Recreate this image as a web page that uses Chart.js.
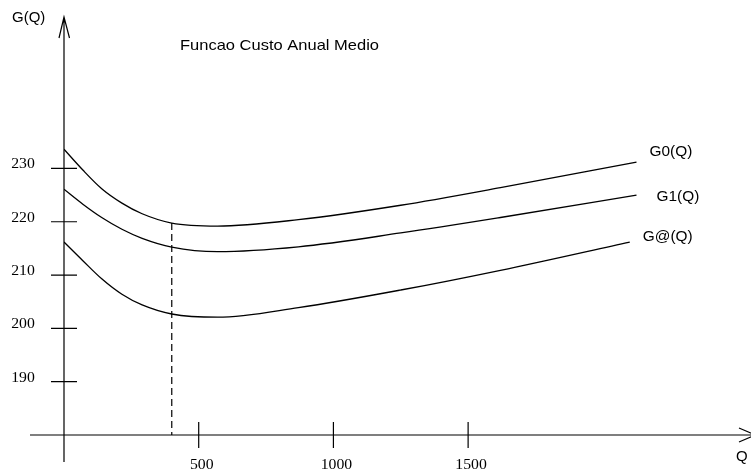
<!DOCTYPE html>
<html>
<head>
<meta charset="utf-8">
<script src="https://cdn.jsdelivr.net/npm/chart.js@4.4.1/dist/chart.umd.min.js"></script>
<style>
  html, body { margin: 0; padding: 0; background: #fff; }
  #wrap { width: 751px; height: 469px; }
</style>
</head>
<body>
<div id="wrap"><canvas id="myChart" width="751" height="469"></canvas></div>
<script>
var qValues = [0, 70, 140, 215, 290, 400, 570, 870, 1250, 1620, 2125];
var qValuesG2 = [0, 70, 140, 215, 290, 400, 570, 870, 1250, 1620, 2100];

// series values G(Q)
var g0Values = [233.6, 229.7, 226.2, 223.5, 221.5, 219.75, 219.2, 220.4, 223.1, 226.4, 231.2];
var g1Values = [226.1, 223.3, 220.8, 218.6, 216.9, 215.25, 214.4, 215.3, 217.9, 220.8, 225.0];
var g2Values = [216.2, 212.7, 209.3, 206.4, 204.4, 202.7, 202.1, 203.9, 207.2, 210.9, 216.2];

var seriesNames = ["G0(Q)", "G1(Q)", "G@(Q)"];

// tick labels
var yTicks = [190, 200, 210, 220, 230];
var xTicks = [500, 1000, 1500];

// dashed marker at the optimum Q
var markerQ = 400;
var markerTop = 219.75;

var axisMinY = 180;

function toPoints(xs, ys) {
    var pts = [];
    for (var i = 0; i < xs.length; i++) {
        pts.push({x: xs[i], y: ys[i]});
    }
    return pts;
}

function txt(ctx, s, x, y, font, align, sx) {
    ctx.save();
    ctx.font = font;
    ctx.fillStyle = "#000";
    ctx.textBaseline = "middle";
    ctx.textAlign = align;
    ctx.translate(x, y);
    ctx.scale(sx, 1);
    ctx.fillText(s, 0, 0);
    ctx.restore();
}

var sans = '14px "Liberation Sans", Arial, sans-serif';
var serif = '15px "Liberation Serif", "Times New Roman", serif';

// axes, ticks, arrows and labels
var axesPlugin = {
    id: "handAxes",
    afterDatasetsDraw: function(chart) {
        var ctx = chart.ctx;
        var xs = chart.scales.x, ys = chart.scales.y;
        var x0 = xs.getPixelForValue(0);
        var y0 = ys.getPixelForValue(axisMinY);

        ctx.save();
        ctx.strokeStyle = "#000";
        ctx.lineWidth = 1.2;
        ctx.beginPath();
        // x axis
        ctx.moveTo(30, y0);
        ctx.lineTo(751, y0);
        // y axis
        ctx.moveTo(x0, 462);
        ctx.lineTo(x0, 17);
        // y arrow head
        ctx.moveTo(x0 - 5, 38);
        ctx.lineTo(x0, 17);
        ctx.lineTo(x0 + 5.5, 38);
        // x arrow head
        ctx.moveTo(739, y0 - 7);
        ctx.lineTo(753, y0 - 1);
        ctx.moveTo(739, y0 + 7);
        ctx.lineTo(753, y0 + 1);
        // y ticks
        yTicks.forEach(function(v) {
            var py = ys.getPixelForValue(v);
            ctx.moveTo(x0 - 13, py);
            ctx.lineTo(x0 + 13, py);
        });
        // x ticks
        xTicks.forEach(function(v) {
            var px = xs.getPixelForValue(v);
            ctx.moveTo(px, y0 - 13);
            ctx.lineTo(px, y0 + 13);
        });
        ctx.stroke();
        ctx.restore();

        yTicks.forEach(function(v) {
            txt(ctx, String(v), 23, ys.getPixelForValue(v) - 4, serif, "center", 1.05);
        });
        xTicks.forEach(function(v) {
            txt(ctx, String(v), xs.getPixelForValue(v) + 3, y0 + 30, serif, "center", 1.05);
        });

        txt(ctx, "G(Q)", 12, 18, sans, "left", 1.07);
        txt(ctx, "Q", 736, y0 + 22, sans, "left", 1.07);
        txt(ctx, "Funcao Custo Anual Medio", 180, 46, '15px "Liberation Sans", Arial, sans-serif', "left", 1.1);

        // curve names next to the line ends
        var ends = [
            [qValues[qValues.length - 1], g0Values[g0Values.length - 1], 13, -10],
            [qValues[qValues.length - 1], g1Values[g1Values.length - 1], 20, 2],
            [qValuesG2[qValuesG2.length - 1], g2Values[g2Values.length - 1], 13, -5]
        ];
        ends.forEach(function(e, i) {
            var px = xs.getPixelForValue(e[0]) + e[2];
            var py = ys.getPixelForValue(e[1]) + e[3];
            txt(ctx, seriesNames[i], px, py, sans, "left", 1.1);
        });
    }
};

var curveStyle = {
    borderColor: "#000",
    borderWidth: 1.3,
    pointRadius: 0,
    fill: false,
    cubicInterpolationMode: "monotone",
    showLine: true
};

var ctx = document.getElementById("myChart").getContext("2d");
var myChart = new Chart(ctx, {
    type: "scatter",
    data: {
        datasets: [
            Object.assign({label: seriesNames[0], data: toPoints(qValues, g0Values)}, curveStyle),
            Object.assign({label: seriesNames[1], data: toPoints(qValues, g1Values)}, curveStyle),
            Object.assign({label: seriesNames[2], data: toPoints(qValuesG2, g2Values)}, curveStyle),
            {
                label: "Q*",
                data: [{x: markerQ, y: markerTop}, {x: markerQ, y: axisMinY}],
                borderColor: "#000",
                borderWidth: 1.2,
                borderDash: [7, 4],
                pointRadius: 0,
                showLine: true,
                tension: 0
            }
        ]
    },
    options: {
        responsive: false,
        animation: false,
        devicePixelRatio: 1,
        layout: { padding: { left: 64, right: 0, top: 16, bottom: 34 } },
        plugins: { legend: { display: false }, tooltip: { enabled: false } },
        scales: {
            x: { type: "linear", min: 0, max: 2550, display: false },
            y: { type: "linear", min: 180, max: 258.6, display: false }
        }
    },
    plugins: [axesPlugin]
});
</script>
</body>
</html>
